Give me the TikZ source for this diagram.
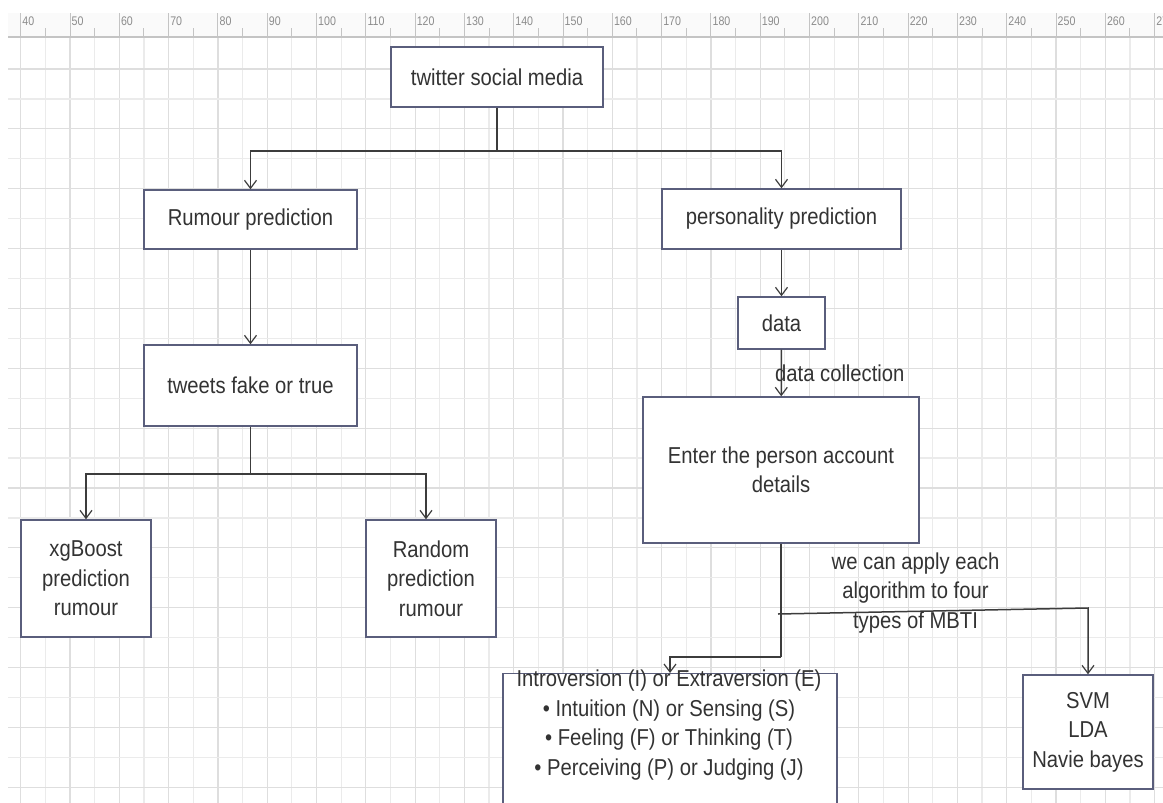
\documentclass[tikz,border=0pt]{standalone}
\usepackage{fontspec}
\setmainfont{Liberation Sans}[FakeStretch=0.88]
\newfontfamily\rulerfont{Liberation Sans}[FakeStretch=0.85]
\usetikzlibrary{arrows.meta,calc}
\definecolor{boxc}{HTML}{5A5E7C}
\definecolor{linec}{HTML}{3C3C3C}
\definecolor{txtc}{HTML}{333333}
\definecolor{gmaj}{HTML}{DEDEDE}
\definecolor{gmin}{HTML}{EBEBEB}
\definecolor{rulc}{HTML}{C4C4C4}
\definecolor{rult}{HTML}{8C8C8C}
\definecolor{rulbg}{HTML}{FAFAFA}
\begin{document}
\begin{tikzpicture}[x=1pt,y=-1pt,
  box/.style={draw=boxc, line width=1.4pt, fill=white, inner sep=0pt, align=center, text=txtc, font=\fontsize{23}{29.5}\selectfont},
  lbl/.style={inner sep=0pt, align=center, text=txtc, font=\fontsize{23}{29.5}\selectfont},
  conn/.style={draw=linec, line width=1.5pt},
  arr/.style={conn, -{Straight Barb[length=8pt,width=12pt,line width=1.2pt]}},
  rlabel/.style={anchor=west, inner sep=0pt, text=rult, font=\rulerfont\fontsize{12.5}{14}\selectfont},
]
\useasboundingbox (0,0) rectangle (1163,803);
\clip (0,0) rectangle (1163,803);
\fill[white] (0,0) rectangle (1163,803);
% ruler band
\fill[rulbg] (8,13) rectangle (1163,37);
% vertical grid lines and ruler ticks
\foreach \i in {0,...,46}{
  \pgfmathsetmacro\gx{20.7+24.65*\i}
  \ifodd\i\relax
    \draw[gmin, line width=1.2pt] (\gx,37) -- (\gx,803);
    \draw[rulc, line width=1pt] (\gx,28) -- (\gx,37);
  \else
    \draw[gmaj, line width=1.2pt] (\gx,37) -- (\gx,803);
    \draw[rulc, line width=1pt] (\gx,13) -- (\gx,37);
    \pgfmathtruncatemacro\lab{40+5*\i}
    \node[rlabel] (r\i) at (\gx+1.5,21) {\lab};
  \fi
}
% horizontal grid lines
\foreach \j in {0,...,24}{
  \pgfmathsetmacro\gy{69+29.93*\j}
  \ifodd\j\relax
    \draw[gmin, line width=1.2pt] (8,\gy) -- (1163,\gy);
  \else
    \draw[gmaj, line width=1.2pt] (8,\gy) -- (1163,\gy);
  \fi
}
\draw[rulc, line width=2pt] (8,37) -- (1163,37);

% nodes
\node[box, minimum width=212pt, minimum height=60pt] (twitter) at (497,77) {twitter social media};
\node[box, minimum width=213pt, minimum height=59pt] (rumour) at (250.5,219.5) {Rumour prediction};
\node[box, minimum width=239pt, minimum height=60pt] (personality) at (781.5,219) {personality prediction};
\node[box, minimum width=213pt, minimum height=81pt] (tweets) at (250.5,385.5) {tweets fake or true};
\node[box, minimum width=130pt, minimum height=117pt] (xgboost) at (86,578.5) {xgBoost\\prediction\\rumour};
\node[box, minimum width=130pt, minimum height=117pt] (random) at (431,578.5) {Random\\prediction\\rumour};
\node[box, minimum width=87pt, minimum height=52pt] (data) at (781.5,323) {data};
\node[box, minimum width=276pt, minimum height=146pt] (enter) at (781,470) {Enter the person account\\details};
\node[box, minimum width=334pt, minimum height=160pt, anchor=north] (intro) at (670,673) {};
\node[lbl] (introtxt) at (669,725) {Introversion (I) or Extraversion (E)\\\textbullet\ Intuition (N) or Sensing (S)\\\textbullet\ Feeling (F) or Thinking (T)\\\textbullet\ Perceiving (P) or Judging (J)};
\node[box, minimum width=130pt, minimum height=114pt] (svm) at (1088,732) {SVM\\LDA\\Navie bayes};

% connectors
\coordinate (j1) at (497,151);
\draw[conn, line width=2.2pt] (twitter.south) -- (j1);
\draw[arr] (j1) -| (rumour.north);
\draw[arr] (j1) -| (personality.north);
\draw[arr] (rumour) -- (tweets);
\coordinate (j2) at (250.5,474);
\draw[conn] (tweets.south) -- (j2);
\draw[arr] (j2) -| (xgboost.north);
\draw[arr] (j2) -| ([xshift=-5pt]random.north);
\draw[arr] (personality) -- (data);
\draw[arr] (data) -- (enter) node[lbl, pos=0.5, xshift=58.5pt] (dclab) {data collection};
\coordinate (j3) at (781,657);
\draw[conn] (enter.south) -- (j3);
\draw[arr] (j3) -| (intro.north);
\coordinate (j4) at (778,614);
\coordinate (j5) at (1088,608);
\draw[arr] (j4) -- (j5) -- (svm.north);
\node[lbl] (mbti) at (915.5,593) {we can apply each\\algorithm to four\\types of MBTI};
\end{tikzpicture}
\end{document}
